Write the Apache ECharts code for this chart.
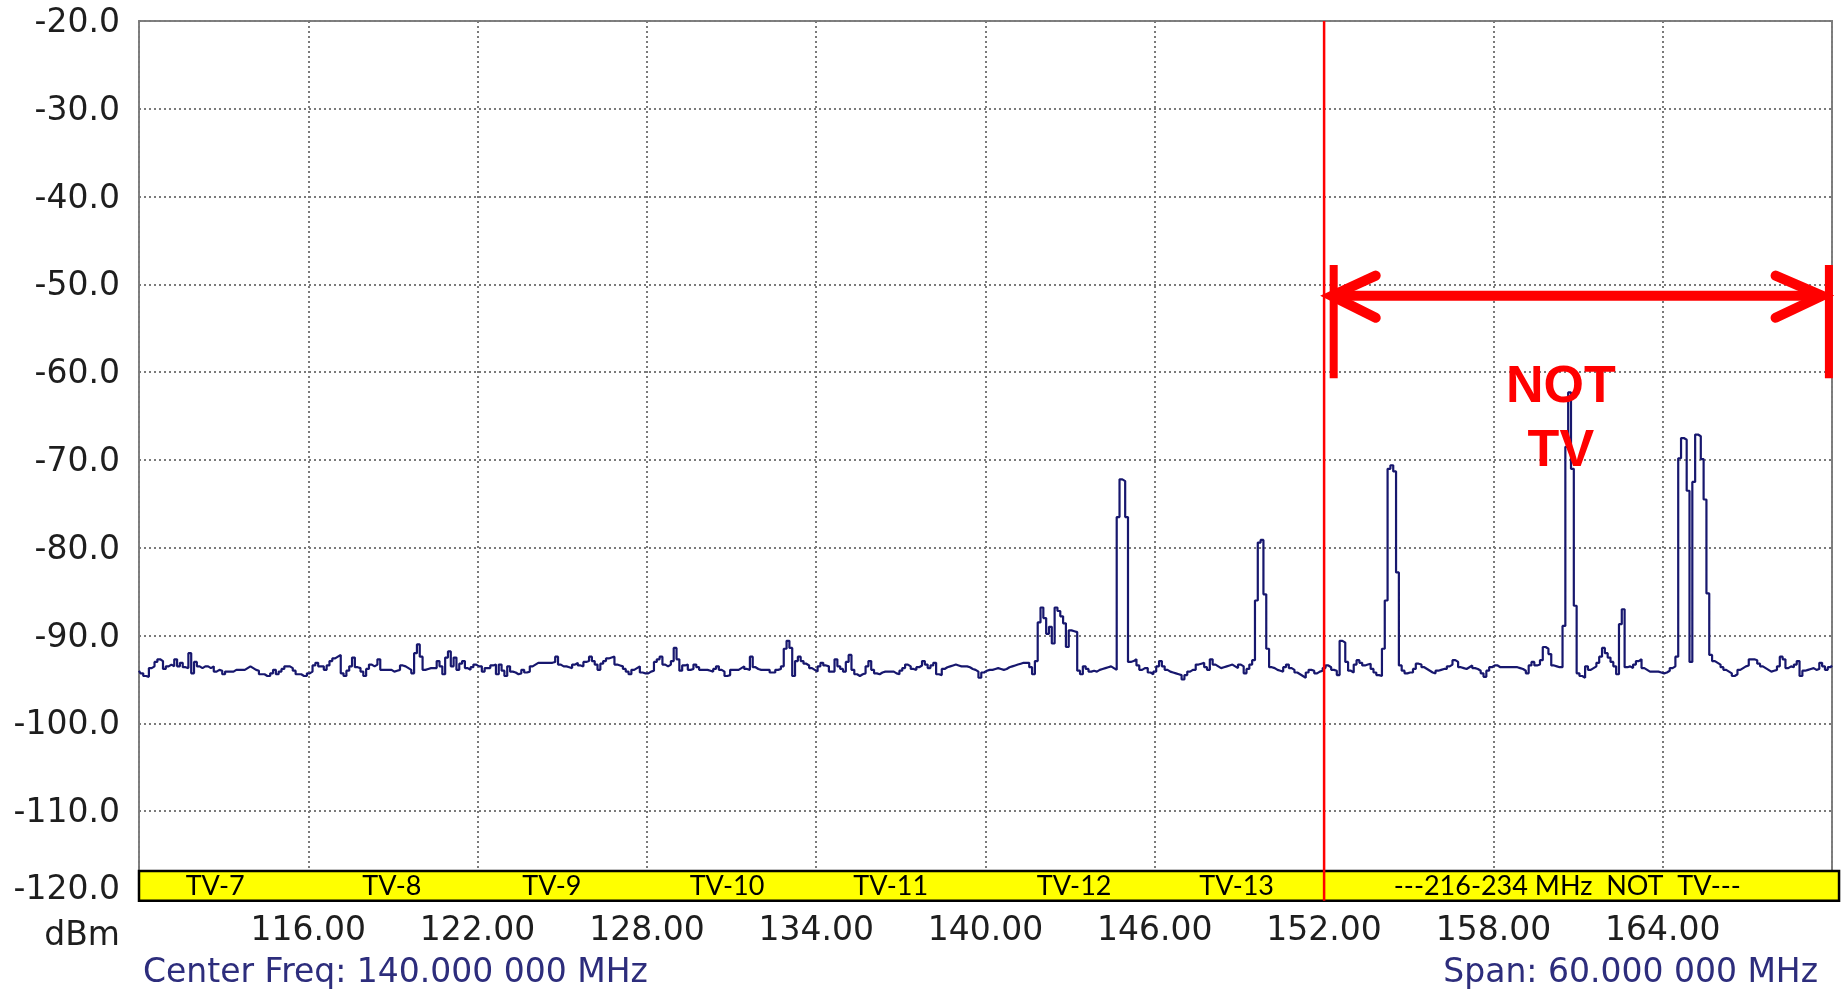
<!DOCTYPE html>
<html>
<head>
<meta charset="utf-8">
<script src="https://cdn.jsdelivr.net/npm/echarts@6/dist/echarts.min.js"></script>
<style>
html,body{margin:0;padding:0;background:#ffffff;}
#chart{width:1845px;height:994px;}
</style>
</head>
<body>
<div id="chart"></div>
<script>
// ---- data ----
const freqStart = 110;      // MHz, first trace point
const freqStep = 0.1;       // MHz between trace points
const levels = [
-94.0,-94.3,-94.6,-94.7,-93.7,-93.5,-93.0,-92.7,-92.9,-93.8,
-93.5,-93.3,-93.5,-92.7,-93.5,-93.1,-93.6,-93.7,-92.0,-94.3,
-93.0,-93.5,-93.7,-93.5,-93.5,-93.7,-93.5,-94.1,-93.9,-94.0,
-94.4,-94.1,-94.1,-94.1,-93.9,-93.9,-93.9,-93.9,-93.7,-93.5,
-93.7,-93.9,-94.0,-94.4,-94.4,-94.6,-94.6,-94.3,-93.9,-94.4,
-94.1,-93.8,-93.5,-93.5,-93.7,-94.0,-94.4,-94.4,-94.6,-94.6,
-94.3,-94.1,-93.4,-93.1,-93.5,-93.5,-93.9,-93.4,-92.9,-92.6,
-92.4,-92.2,-94.3,-94.6,-94.0,-93.5,-92.5,-93.6,-93.7,-94.1,
-94.6,-93.8,-93.3,-93.5,-93.3,-92.7,-93.9,-93.9,-93.9,-93.9,
-94.1,-94.0,-93.9,-93.4,-93.5,-93.7,-93.9,-94.3,-92.0,-91.0,
-92.4,-93.9,-93.8,-93.7,-93.7,-93.7,-92.9,-93.5,-94.4,-92.5,
-91.8,-93.5,-92.5,-93.9,-93.2,-92.9,-93.7,-93.9,-93.6,-93.3,
-93.5,-93.5,-94.1,-93.7,-93.7,-93.4,-93.3,-94.4,-93.3,-94.0,
-94.6,-93.5,-94.1,-94.2,-94.4,-94.3,-93.9,-94.2,-94.1,-93.5,
-93.3,-93.1,-93.1,-93.1,-93.1,-93.1,-93.1,-93.0,-92.4,-93.3,
-93.5,-93.5,-93.6,-93.7,-93.3,-93.1,-93.4,-93.5,-93.0,-92.9,
-92.4,-92.9,-93.3,-93.9,-93.2,-92.9,-92.6,-92.5,-92.4,-93.3,
-93.4,-93.5,-93.8,-94.1,-94.4,-93.9,-93.7,-93.5,-94.2,-94.3,
-94.3,-94.1,-94.0,-93.0,-92.7,-92.4,-93.3,-93.5,-93.3,-92.9,
-91.4,-92.7,-94.0,-93.4,-93.3,-93.9,-93.8,-93.3,-93.6,-93.9,
-93.9,-93.9,-94.0,-94.1,-93.8,-93.5,-93.9,-94.1,-94.6,-94.5,
-93.9,-93.9,-93.9,-93.7,-93.5,-93.8,-93.9,-92.4,-93.6,-93.8,
-93.9,-93.9,-93.9,-93.9,-94.2,-94.2,-93.9,-93.8,-93.5,-91.5,
-90.6,-91.4,-94.6,-92.9,-92.4,-92.9,-93.2,-93.4,-93.7,-93.9,
-94.1,-93.5,-93.1,-93.4,-93.5,-94.1,-94.1,-92.7,-93.5,-93.8,
-94.1,-93.0,-92.2,-93.9,-94.4,-94.6,-94.4,-94.3,-93.5,-92.9,
-93.9,-94.3,-94.4,-94.2,-94.1,-94.1,-94.1,-94.1,-94.3,-94.4,
-94.0,-93.7,-93.3,-93.5,-93.8,-93.9,-93.6,-93.4,-92.9,-93.3,
-93.7,-93.4,-93.1,-94.4,-94.5,-93.8,-93.6,-93.5,-93.4,-93.3,
-93.4,-93.5,-93.5,-93.5,-93.6,-93.8,-93.9,-94.1,-94.8,-94.2,
-94.0,-93.9,-93.9,-93.8,-93.7,-93.8,-93.9,-93.8,-93.6,-93.5,
-93.4,-93.3,-93.2,-93.1,-93.1,-93.1,-93.6,-94.4,-92.9,-88.5,
-86.8,-88.0,-89.8,-89.0,-90.9,-86.8,-87.2,-87.8,-88.6,-91.3,
-89.4,-89.5,-89.6,-94.0,-94.4,-93.5,-93.8,-94.1,-94.0,-94.1,
-93.9,-93.8,-93.7,-93.6,-93.5,-93.7,-93.9,-76.5,-72.2,-72.4,
-76.5,-93.0,-92.9,-92.7,-93.4,-93.9,-93.7,-93.7,-94.2,-94.4,
-94.1,-93.5,-92.9,-93.5,-93.9,-94.1,-94.2,-94.3,-94.4,-94.5,
-95.0,-94.5,-94.1,-93.9,-93.9,-93.3,-93.2,-93.1,-93.6,-93.9,
-92.7,-93.3,-93.5,-93.7,-93.6,-93.5,-93.4,-93.3,-93.5,-93.7,
-93.3,-93.5,-94.3,-93.8,-93.3,-92.8,-86.0,-79.4,-79.1,-85.3,
-91.5,-93.6,-93.7,-93.9,-94.0,-94.1,-93.6,-93.3,-93.7,-93.9,
-94.2,-94.4,-94.6,-94.8,-94.2,-93.9,-94.0,-94.3,-94.1,-94.0,
-93.7,-93.4,-93.6,-93.9,-94.0,-94.5,-90.6,-90.8,-93.0,-94.0,
-94.2,-93.3,-92.8,-93.1,-93.4,-93.3,-93.2,-93.8,-94.2,-94.5,
-94.6,-91.5,-86.0,-71.0,-70.6,-71.3,-82.8,-93.4,-94.0,-94.3,
-94.2,-94.2,-93.8,-93.2,-93.3,-93.6,-93.8,-94.0,-94.2,-94.3,
-94.0,-93.9,-93.8,-93.8,-93.5,-93.3,-92.8,-93.0,-93.6,-93.7,
-93.8,-93.6,-93.4,-93.7,-93.8,-94.0,-94.3,-94.7,-94.0,-93.6,
-93.4,-93.4,-93.6,-93.6,-93.6,-93.6,-93.6,-93.6,-93.6,-93.7,
-93.8,-94.0,-94.3,-93.4,-93.0,-93.4,-93.3,-92.8,-91.3,-91.5,
-92.1,-93.4,-93.5,-93.6,-93.6,-88.9,-68.5,-62.3,-71.0,-86.6,
-94.3,-94.6,-94.8,-93.5,-93.9,-93.7,-93.5,-93.1,-92.4,-91.4,
-92.0,-92.5,-93.0,-93.5,-94.4,-88.7,-87.0,-93.6,-93.5,-93.7,
-93.3,-92.9,-92.7,-93.7,-93.9,-94.1,-94.1,-94.1,-94.1,-94.2,
-94.3,-94.2,-94.0,-93.7,-93.5,-92.4,-69.8,-67.5,-67.7,-73.5,
-93.0,-72.5,-67.1,-67.3,-69.9,-74.5,-85.2,-92.2,-92.9,-93.1,
-93.3,-93.6,-93.9,-94.1,-94.3,-94.6,-94.4,-93.9,-93.7,-93.5,
-93.4,-92.7,-92.7,-92.8,-93.2,-93.5,-93.7,-93.9,-94.1,-94.0,
-93.9,-93.5,-92.4,-92.7,-93.7,-93.5,-93.6,-93.3,-92.9,-94.6,
-94.0,-93.9,-93.8,-93.7,-93.9,-93.8,-93.1,-93.5,-93.9,-93.6,
-93.4
];

// axis setup
const xMin = 110, xMax = 170, xInterval = 6;
const yMin = -120, yMax = -20, yInterval = 10;

// channel band labels
const tvLabels = ['TV-7','TV-8','TV-9','TV-10','TV-11','TV-12','TV-13','---216-234 MHz  NOT  TV---'];
const tvLabelFreqs = [112.70, 118.96, 124.63, 130.84, 136.64, 143.14, 148.90, 160.62];
const bandFreqs = [110, 170.25];
const bandLevels = [-120.2, -116.8];
const bandLabelLevel = -118.5;

// red annotations
const markerFreq = 152;
const markerLevels = [-20, -120.2];
const arrowLevel = -51.3;
const arrowTipFreqs = [152.27, 169.65];
const arrowHeadFreqs = [153.83, 168.0];
const arrowHeadLevels = [-49.0, -53.8];
const endBarFreqs = [152.34, 169.89];
const endBarLevels = [-47.8, -60.7];
const noteText = ['NOT', 'TV'];
const noteFreq = 160.39;
const noteLevels = [-61.8, -69.0];

// footer texts
const centerText = 'Center Freq: 140.000 000 MHz';
const spanText = 'Span: 60.000 000 MHz';
const unitText = 'dBm';

// ---- chart ----
const trace = levels.map((v, i) => [Math.round((freqStart + i * freqStep) * 10) / 10, v]);
const labelFont = 'DejaVu Sans';
const gridLine = {show: true, lineStyle: {color: '#7a7a7a', width: 2, type: [2, 3]}};

const chart = echarts.init(document.getElementById('chart'), null, {renderer: 'canvas'});
chart.setOption({
  animation: false,
  backgroundColor: '#ffffff',
  grid: {left: 139, right: 13, top: 21, bottom: 95, show: true, borderColor: '#808080', borderWidth: 2, containLabel: false, outerBoundsMode: 'none'},
  xAxis: {
    type: 'value', min: xMin, max: xMax, interval: xInterval,
    axisLine: {show: false}, axisTick: {show: false},
    splitLine: gridLine,
    axisLabel: {
      margin: 16, fontFamily: labelFont, fontSize: 33, color: '#1e1e1e',
      showMinLabel: false, showMaxLabel: false,
      formatter: v => (v === xMin || v === xMax) ? '' : v.toFixed(2)
    }
  },
  yAxis: {
    type: 'value', min: yMin, max: yMax, interval: yInterval,
    axisLine: {show: false}, axisTick: {show: false},
    splitLine: gridLine,
    axisLabel: {
      margin: 19, fontFamily: labelFont, fontSize: 33, color: '#1e1e1e',
      padding: [5, 0, 0, 0],
      formatter: v => v === yMin ? '{lo|' + v.toFixed(1) + '}' : v.toFixed(1),
      rich: {lo: {fontFamily: labelFont, fontSize: 33, color: '#1e1e1e', padding: [0, 0, 22, 0]}}
    }
  },
  graphic: [
    {type: 'text', x: 120, y: 936, style: {text: unitText, align: 'right', verticalAlign: 'middle', fontFamily: labelFont, fontSize: 33, fill: '#1e1e1e'}},
    {type: 'text', x: 143, y: 973, style: {text: centerText, align: 'left', verticalAlign: 'middle', fontFamily: labelFont, fontSize: 33, fill: '#2d2d7c'}},
    {type: 'text', x: 1818, y: 973, style: {text: spanText, align: 'right', verticalAlign: 'middle', fontFamily: labelFont, fontSize: 33, fill: '#2d2d7c'}}
  ],
  series: [
    {
      type: 'line', data: trace, step: 'middle', showSymbol: false, symbol: 'none',
      lineStyle: {color: '#17176e', width: 2.2}, z: 3, silent: true
    },
    {
      type: 'custom', clip: false, silent: true, z: 5,
      data: [[bandFreqs[0], bandLevels[0]]],
      renderItem: (params, api) => {
        const tl = api.coord([bandFreqs[0], bandLevels[1]]);
        const br = api.coord([bandFreqs[1], bandLevels[0]]);
        const children = [{
          type: 'rect',
          shape: {x: tl[0], y: tl[1], width: br[0] - tl[0], height: br[1] - tl[1]},
          style: {fill: '#ffff00', stroke: '#000000', lineWidth: 2.5}
        }];
        tvLabels.forEach((t, i) => {
          const p = api.coord([tvLabelFreqs[i], bandLabelLevel]);
          children.push({type: 'text', x: p[0], y: p[1], style: {text: t, align: 'center', verticalAlign: 'middle', fontFamily: 'Lato', fontSize: 27, fill: '#000000'}});
        });
        return {type: 'group', children};
      }
    },
    {
      type: 'custom', clip: false, silent: true, z: 8,
      data: [[markerFreq, arrowLevel]],
      renderItem: (params, api) => {
        const red = '#ff0000';
        const c = (f, l) => api.coord([f, l]);
        const mt = c(markerFreq, markerLevels[0]), mb = c(markerFreq, markerLevels[1]);
        const tL = c(arrowTipFreqs[0], arrowLevel), tR = c(arrowTipFreqs[1], arrowLevel);
        const hL1 = c(arrowHeadFreqs[0], arrowHeadLevels[0]), hL2 = c(arrowHeadFreqs[0], arrowHeadLevels[1]);
        const hR1 = c(arrowHeadFreqs[1], arrowHeadLevels[0]), hR2 = c(arrowHeadFreqs[1], arrowHeadLevels[1]);
        const bL1 = c(endBarFreqs[0], endBarLevels[0]), bL2 = c(endBarFreqs[0], endBarLevels[1]);
        const bR1 = c(endBarFreqs[1], endBarLevels[0]), bR2 = c(endBarFreqs[1], endBarLevels[1]);
        const n1 = c(noteFreq, noteLevels[0]), n2 = c(noteFreq, noteLevels[1]);
        const thick = {stroke: red, lineWidth: 10, lineCap: 'round', lineJoin: 'miter', fill: null};
        return {type: 'group', children: [
          {type: 'line', shape: {x1: mt[0], y1: mt[1], x2: mb[0], y2: mb[1]}, style: {stroke: red, lineWidth: 2.5}},
          {type: 'line', shape: {x1: bL1[0], y1: bL1[1], x2: bL2[0], y2: bL2[1]}, style: {stroke: red, lineWidth: 8}},
          {type: 'line', shape: {x1: bR1[0], y1: bR1[1], x2: bR2[0], y2: bR2[1]}, style: {stroke: red, lineWidth: 8}},
          {type: 'line', shape: {x1: tL[0] + 4, y1: tL[1], x2: tR[0] - 4, y2: tR[1]}, style: {stroke: red, lineWidth: 10}},
          {type: 'polyline', shape: {points: [hL1, tL, hL2]}, style: thick},
          {type: 'polyline', shape: {points: [hR1, tR, hR2]}, style: thick},
          {type: 'text', x: n1[0], y: n1[1], style: {text: noteText[0], align: 'center', verticalAlign: 'middle', fontFamily: 'Liberation Sans', fontWeight: 'bold', fontSize: 52, fill: red}},
          {type: 'text', x: n2[0], y: n2[1], style: {text: noteText[1], align: 'center', verticalAlign: 'middle', fontFamily: 'Liberation Sans', fontWeight: 'bold', fontSize: 52, fill: red}}
        ]};
      }
    }
  ]
});
</script>
</body>
</html>
